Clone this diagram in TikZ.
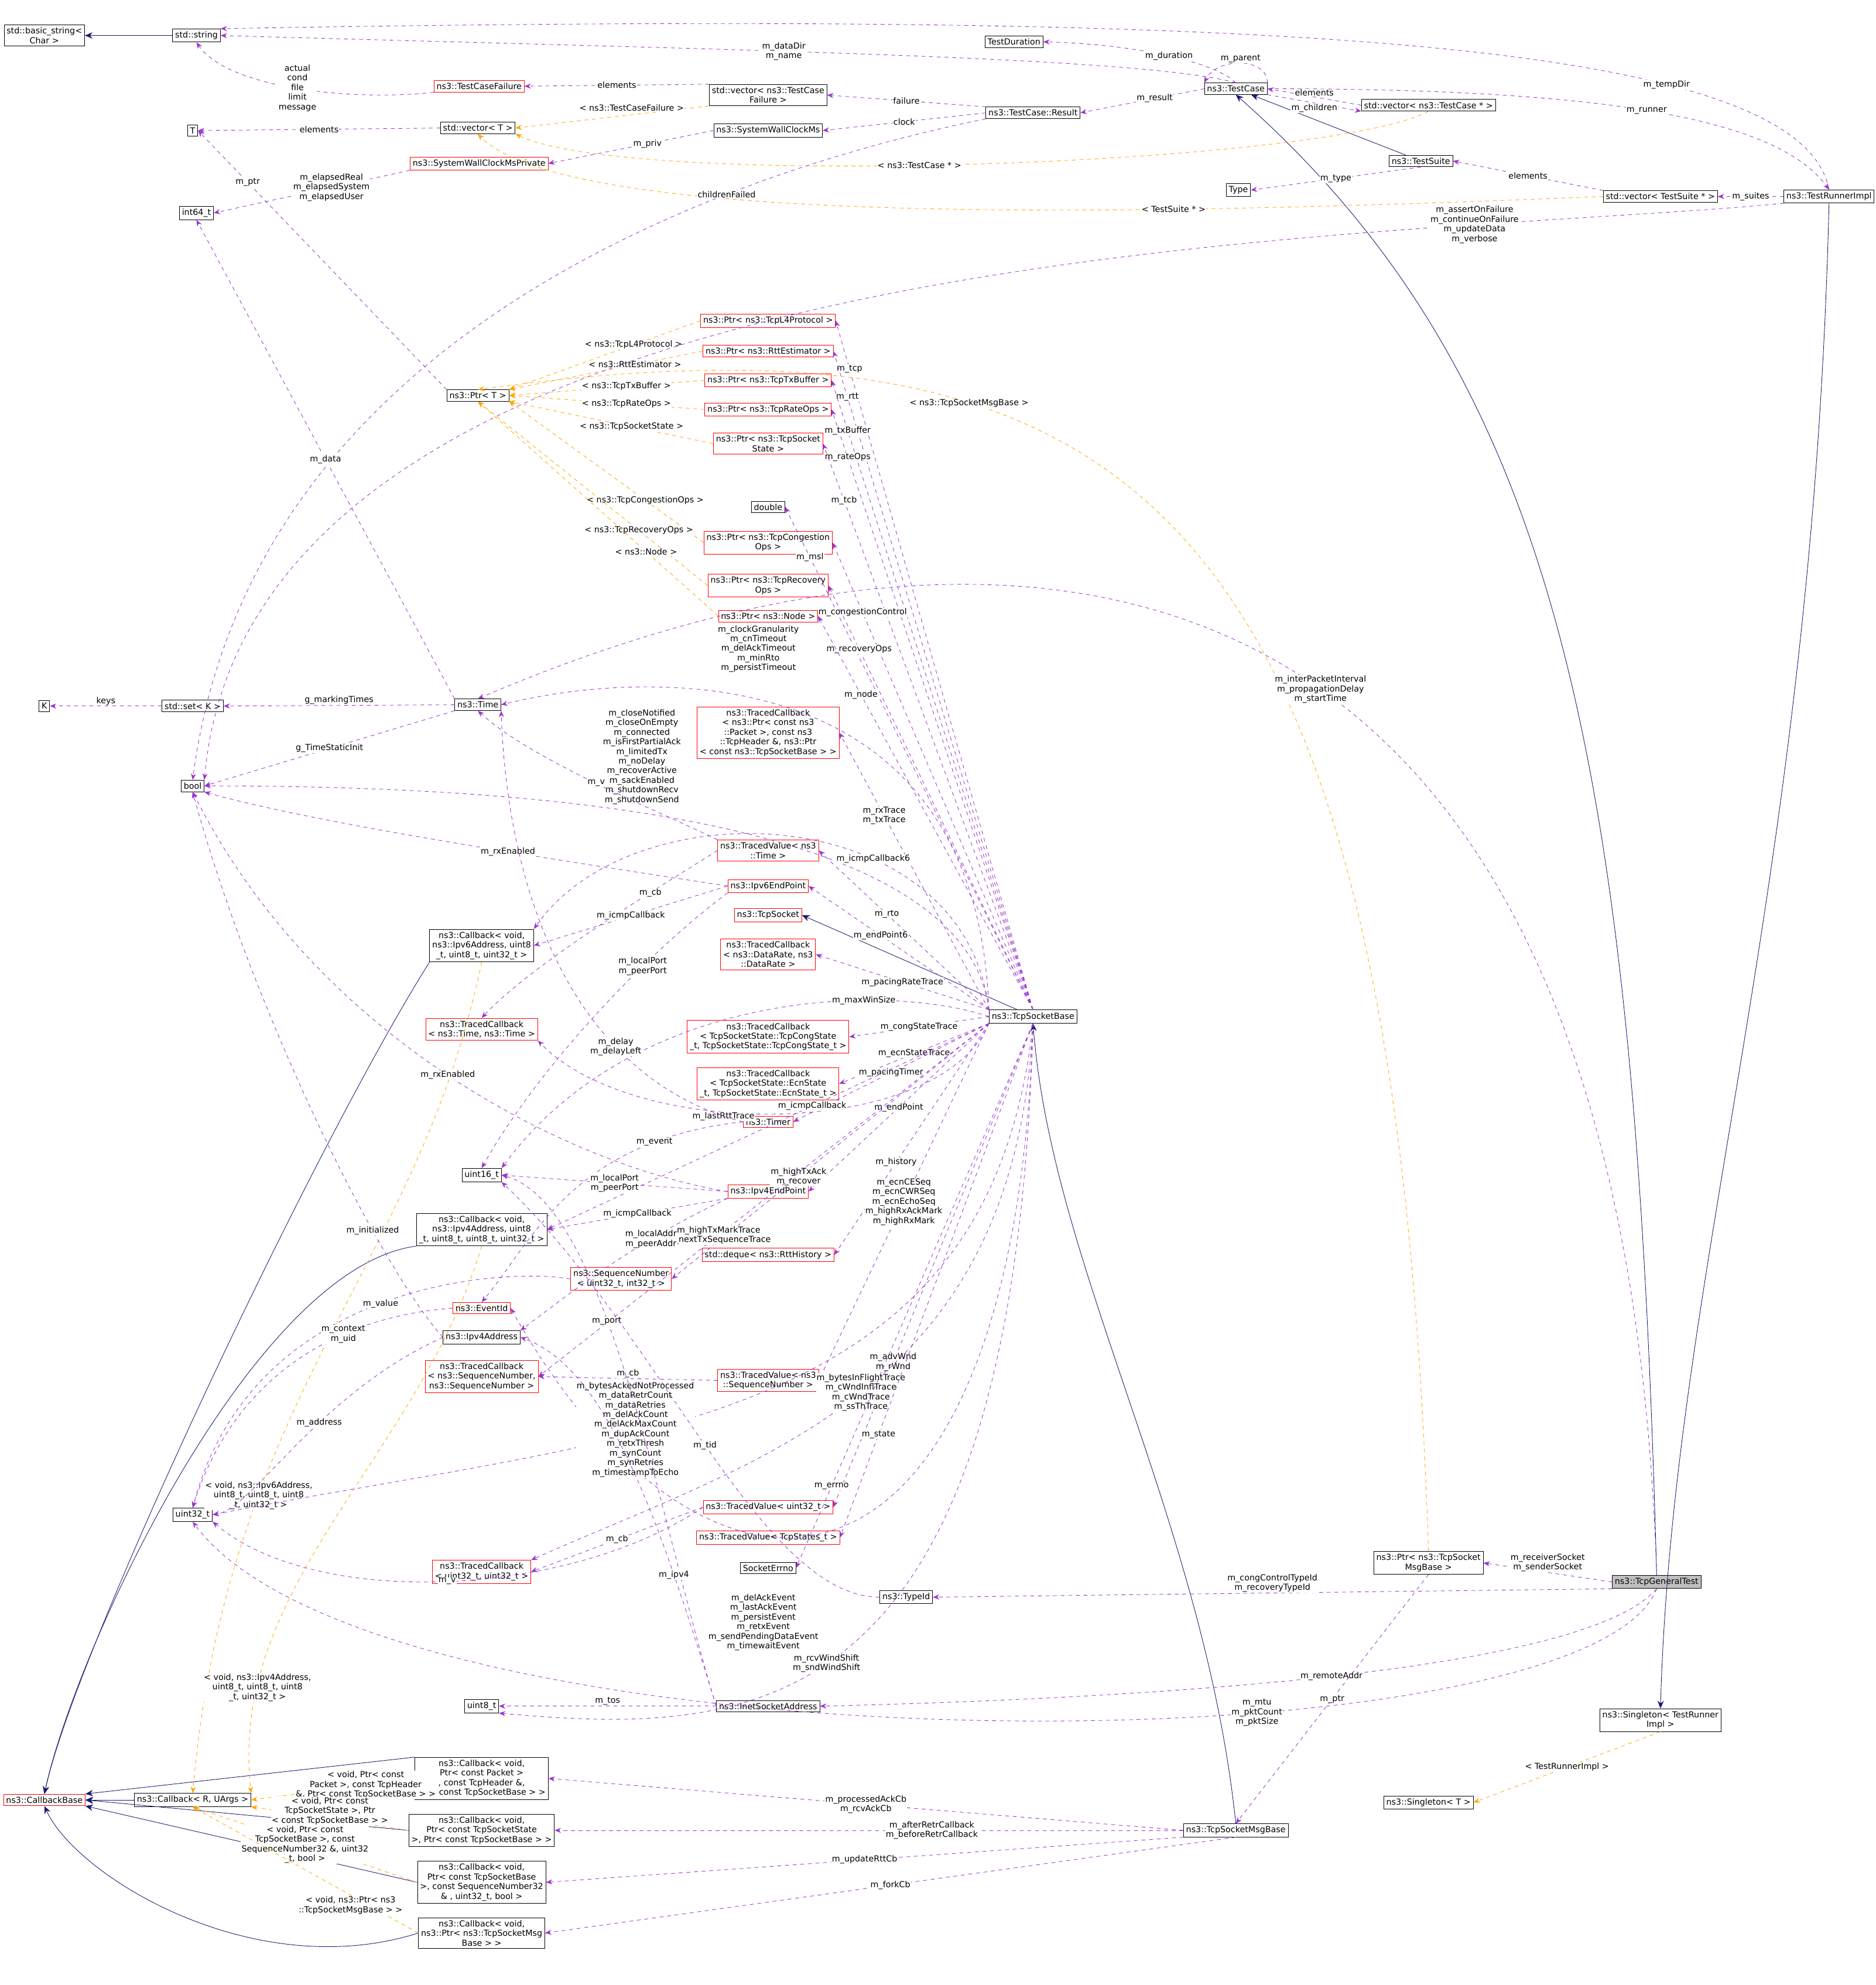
\documentclass[tikz,border=0pt]{standalone}
\usepackage{fontspec}
\setmainfont{DejaVu Sans}
\usetikzlibrary{arrows.meta}
\definecolor{usecol}{HTML}{9A32CD}
\definecolor{inhcol}{HTML}{191970}
\definecolor{tplcol}{HTML}{FFA500}
\begin{document}
\begin{tikzpicture}[x=1pt, y=-1pt,
  every node/.style={font=\fontsize{6.6}{7.6}\selectfont, align=center},
  cls/.style={draw=black, fill=white, inner sep=2pt},
  rcls/.style={draw=red, fill=white, inner sep=2pt},
  cur/.style={draw=black, fill=black!25, inner sep=2pt},
  use/.style={draw=usecol, dashed, -{Stealth[length=5pt,width=4pt]}},
  inh/.style={draw=inhcol, -{Stealth[length=6pt,width=5pt]}},
  tpl/.style={draw=tplcol, dashed, -{Stealth[length=5pt,width=4pt]}},
  lbl/.style={fill=white, inner sep=0.5pt}]

\useasboundingbox (0,0) rectangle (1480,1566);

% left column
\node[cls] (bstr) at (35,28) {std::basic\_string\textless\\Char \textgreater};
\node[cls] (str) at (155,28) {std::string};
\node[cls] (T) at (152,103) {T};
\node[cls] (i64) at (155,168) {int64\_t};
\node[cls] (K) at (35,557) {K};
\node[cls] (setK) at (152,557) {std::set\textless{} K \textgreater};
\node[cls] (bool) at (152,620) {bool};
\node[cls] (u32) at (152,1195) {uint32\_t};
\node[rcls] (cbb) at (35,1420) {ns3::CallbackBase};
\node[cls] (cbR) at (152,1420) {ns3::Callback\textless{} R, UArgs \textgreater};

% test framework
\node[cls] (tdur) at (800,33) {TestDuration};
\node[cls] (tcase) at (975,70) {ns3::TestCase};
\node[cls] (vtc) at (1127,83) {std::vector\textless{} ns3::TestCase * \textgreater};
\node[rcls] (tcf) at (378,68) {ns3::TestCaseFailure};
\node[cls] (vtcf) at (606,75) {std::vector\textless{} ns3::TestCase\\Failure \textgreater};
\node[cls] (vT) at (377,101) {std::vector\textless{} T \textgreater};
\node[cls] (swc) at (606,103) {ns3::SystemWallClockMs};
\node[rcls] (swcp) at (378,129) {ns3::SystemWallClockMsPrivate};
\node[cls] (res) at (815,89) {ns3::TestCase::Result};
\node[cls] (tsuite) at (1121,127) {ns3::TestSuite};
\node[cls] (type) at (977,150) {Type};
\node[cls] (vts) at (1310,155) {std::vector\textless{} TestSuite * \textgreater};
\node[cls] (trun) at (1443,155) {ns3::TestRunnerImpl};

% pointers
\node[cls] (ptrT) at (377,312) {ns3::Ptr\textless{} T \textgreater};
\node[rcls] (pl4) at (606,253) {ns3::Ptr\textless{} ns3::TcpL4Protocol \textgreater};
\node[rcls] (prtt) at (606,277) {ns3::Ptr\textless{} ns3::RttEstimator \textgreater};
\node[rcls] (ptx) at (606,300) {ns3::Ptr\textless{} ns3::TcpTxBuffer \textgreater};
\node[rcls] (prate) at (606,323) {ns3::Ptr\textless{} ns3::TcpRateOps \textgreater};
\node[rcls] (ptcb) at (606,350) {ns3::Ptr\textless{} ns3::TcpSocket\\State \textgreater};
\node[cls] (dbl) at (606,400) {double};
\node[rcls] (pcc) at (606,428) {ns3::Ptr\textless{} ns3::TcpCongestion\\Ops \textgreater};
\node[rcls] (prec) at (606,462) {ns3::Ptr\textless{} ns3::TcpRecovery\\Ops \textgreater};
\node[rcls] (pnode) at (606,486) {ns3::Ptr\textless{} ns3::Node \textgreater};

% socket members
\node[cls] (time) at (377,556) {ns3::Time};
\node[rcls] (tcpkt) at (606,578) {ns3::TracedCallback\\\textless{} ns3::Ptr\textless{} const ns3\\::Packet \textgreater, const ns3\\::TcpHeader \&, ns3::Ptr\\\textless{} const ns3::TcpSocketBase \textgreater{} \textgreater};
\node[rcls] (tvtime) at (606,671) {ns3::TracedValue\textless{} ns3\\::Time \textgreater};
\node[rcls] (ip6ep) at (606,699) {ns3::Ipv6EndPoint};
\node[rcls] (tsock) at (606,722) {ns3::TcpSocket};
\node[rcls] (tcrate) at (606,753) {ns3::TracedCallback\\\textless{} ns3::DataRate, ns3\\::DataRate \textgreater};
\node[cls] (cb6) at (380,746) {ns3::Callback\textless{} void,\\ns3::Ipv6Address, uint8\\\_t, uint8\_t, uint32\_t \textgreater};
\node[rcls] (tctime) at (380,812) {ns3::TracedCallback\\\textless{} ns3::Time, ns3::Time \textgreater};
\node[cls] (tsb) at (815,802) {ns3::TcpSocketBase};
\node[rcls] (tccong) at (606,818) {ns3::TracedCallback\\\textless{} TcpSocketState::TcpCongState\\\_t, TcpSocketState::TcpCongState\_t \textgreater};
\node[rcls] (tcecn) at (606,855) {ns3::TracedCallback\\\textless{} TcpSocketState::EcnState\\\_t, TcpSocketState::EcnState\_t \textgreater};
\node[rcls] (timer) at (606,885) {ns3::Timer};
\node[cls] (u16) at (380,927) {uint16\_t};
\node[rcls] (ip4ep) at (606,940) {ns3::Ipv4EndPoint};
\node[cls] (cb4) at (380,970) {ns3::Callback\textless{} void,\\ns3::Ipv4Address, uint8\\\_t, uint8\_t, uint8\_t, uint32\_t \textgreater};
\node[rcls] (deq) at (606,990) {std::deque\textless{} ns3::RttHistory \textgreater};
\node[rcls] (seqn) at (490,1009) {ns3::SequenceNumber\\\textless{} uint32\_t, int32\_t \textgreater};
\node[rcls] (evid) at (380,1032) {ns3::EventId};
\node[cls] (ip4a) at (380,1055) {ns3::Ipv4Address};
\node[rcls] (tcseq) at (380,1086) {ns3::TracedCallback\\\textless{} ns3::SequenceNumber,\\ns3::SequenceNumber \textgreater};
\node[rcls] (tvseq) at (606,1089) {ns3::TracedValue\textless{} ns3\\::SequenceNumber \textgreater};
\node[rcls] (tvu32) at (606,1189) {ns3::TracedValue\textless{} uint32\_t \textgreater};
\node[rcls] (tcu32) at (380,1240) {ns3::TracedCallback\\\textless{} uint32\_t, uint32\_t \textgreater};
\node[rcls] (tvst) at (606,1213) {ns3::TracedValue\textless{} TcpStates\_t \textgreater};
\node[cls] (errno) at (606,1237) {SocketErrno};
\node[cls] (tid) at (715,1260) {ns3::TypeId};
\node[cls] (u8) at (380,1346) {uint8\_t};
\node[cls] (inet) at (606,1346) {ns3::InetSocketAddress};

% test classes
\node[cls] (pmsg) at (1127,1233) {ns3::Ptr\textless{} ns3::TcpSocket\\MsgBase \textgreater};
\node[cur] (gen) at (1307,1248) {ns3::TcpGeneralTest};
\node[cls] (sgtr) at (1310,1357) {ns3::Singleton\textless{} TestRunner\\Impl \textgreater};
\node[cls] (sgT) at (1127,1422) {ns3::Singleton\textless{} T \textgreater};
\node[cls] (msg) at (975,1444) {ns3::TcpSocketMsgBase};
\node[cls] (cbpkt) at (380,1403) {ns3::Callback\textless{} void,\\Ptr\textless{} const Packet \textgreater\\, const TcpHeader \&,\\Ptr\textless{} const TcpSocketBase \textgreater{} \textgreater};
\node[cls] (cbst) at (380,1444) {ns3::Callback\textless{} void,\\Ptr\textless{} const TcpSocketState\\\textgreater, Ptr\textless{} const TcpSocketBase \textgreater{} \textgreater};
\node[cls] (cbsq) at (380,1485) {ns3::Callback\textless{} void,\\Ptr\textless{} const TcpSocketBase\\\textgreater, const SequenceNumber32\\\& , uint32\_t, bool \textgreater};
\node[cls] (cbmsg) at (380,1525) {ns3::Callback\textless{} void,\\ns3::Ptr\textless{} ns3::TcpSocketMsg\\Base \textgreater{} \textgreater};

% Inheritance
\draw[inh] (str) -- (bstr);
\draw[inh] (tsuite) -- (tcase);
\draw[inh] (gen.north) .. controls (1290,600) and (1230,300) .. (tcase.south);
\draw[inh] (trun.south) .. controls (1430,700) and (1320,1000) .. (sgtr.north);
\draw[inh] (tsb) -- (tsock.east);
\draw[inh] (msg.north) .. controls (950,1200) and (830,1000) .. (tsb.south);
\draw[inh] (cbR) -- (cbb);
\draw[inh] (cb6.south west) .. controls (250,900) and (60,1300) .. (cbb.north);
\draw[inh] (cb4.south west) .. controls (200,1000) and (60,1300) .. (cbb.north);
\draw[inh] (cbpkt.north west) -- (cbb.north east);
\draw[inh] (cbst.west) -- (cbb.east);
\draw[inh] (cbsq.west) -- (cbb.south east);
\draw[inh] (cbmsg.west) .. controls (200,1566) and (60,1480) .. (cbb.south);

% Template instances
\draw[tpl] (vtcf.south west) -- node[lbl, above=2pt, pos=0.4] {\textless{} ns3::TestCaseFailure \textgreater} (vT.east);
\draw[tpl] (vtc.south) .. controls (1050,130) and (500,150) .. node[lbl, pos=0.55] {\textless{} ns3::TestCase * \textgreater} (vT.south east);
\draw[tpl] (vts.west) .. controls (900,170) and (450,180) .. node[lbl, pos=0.3] {\textless{} TestSuite * \textgreater} (vT.south);
\draw[tpl] (pl4.west) -- node[lbl, pos=0.35] {\textless{} ns3::TcpL4Protocol \textgreater} (ptrT.north east);
\draw[tpl] (prtt.west) -- node[lbl, pos=0.35] {\textless{} ns3::RttEstimator \textgreater} (ptrT.north east);
\draw[tpl] (ptx.west) -- node[lbl, pos=0.4] {\textless{} ns3::TcpTxBuffer \textgreater} (ptrT.east);
\draw[tpl] (prate.west) -- node[lbl, pos=0.4] {\textless{} ns3::TcpRateOps \textgreater} (ptrT.east);
\draw[tpl] (ptcb.west) -- node[lbl, pos=0.4] {\textless{} ns3::TcpSocketState \textgreater} (ptrT.south east);
\draw[tpl] (pcc.west) -- node[lbl, pos=0.3] {\textless{} ns3::TcpCongestionOps \textgreater} (ptrT.south east);
\draw[tpl] (prec.west) -- node[lbl, pos=0.3] {\textless{} ns3::TcpRecoveryOps \textgreater} (ptrT.south);
\draw[tpl] (pnode.west) -- node[lbl, pos=0.3] {\textless{} ns3::Node \textgreater} (ptrT.south);
\draw[tpl] (pmsg.north) .. controls (1100,400) and (900,236) .. node[lbl, pos=0.7] {\textless{} ns3::TcpSocketMsgBase \textgreater} (ptrT.north);
\draw[tpl] (sgtr.south) -- node[lbl, pos=0.5] {\textless{} TestRunnerImpl \textgreater} (sgT.east);
\draw[tpl] (cb6.south) .. controls (330,1000) and (180,1100) .. node[lbl, pos=0.7] {\textless{} void, ns3::Ipv6Address,\\uint8\_t, uint8\_t, uint8\\\_t, uint32\_t \textgreater} (cbR.north);
\draw[tpl] (cb4.south) .. controls (330,1150) and (180,1250) .. node[lbl, pos=0.82] {\textless{} void, ns3::Ipv4Address,\\uint8\_t, uint8\_t, uint8\\\_t, uint32\_t \textgreater} (cbR.north east);
\draw[tpl] (cbpkt.west) -- node[lbl, pos=0.3] {\textless{} void, Ptr\textless{} const\\Packet \textgreater, const TcpHeader\\\&, Ptr\textless{} const TcpSocketBase \textgreater{} \textgreater} (cbR.east);
\draw[tpl] (cbst.west) -- node[lbl, pos=0.5, yshift=6pt] {\textless{} void, Ptr\textless{} const\\TcpSocketState \textgreater, Ptr\\\textless{} const TcpSocketBase \textgreater{} \textgreater} (cbR.south east);
\draw[tpl] (cbsq.west) -- node[lbl, pos=0.5, yshift=0pt] {\textless{} void, Ptr\textless{} const\\TcpSocketBase \textgreater, const\\SequenceNumber32 \&, uint32\\\_t, bool \textgreater} (cbR.south);
\draw[tpl] (cbmsg.west) -- node[lbl, pos=0.3, yshift=-8pt] {\textless{} void, ns3::Ptr\textless{} ns3\\::TcpSocketMsgBase \textgreater{} \textgreater} (cbR.south);

% Usage: test framework
\draw[use] (tcase.north) .. controls (900,45) and (600,40) .. node[lbl, pos=0.6] {m\_dataDir\\m\_name} (str.east);
\draw[use] (trun.north) .. controls (1420,30) and (1000,8) .. node[lbl, pos=0.3] {m\_tempDir} (str.north east);
\draw[use] (tcf.south west) .. controls (280,80) and (180,70) .. node[lbl, pos=0.5] {actual\\cond\\file\\limit\\message} (str.south);
\draw[use] (vtcf.north west) -- node[lbl, pos=0.5] {elements} (tcf.east);
\draw[use] (vT.west) -- node[lbl, pos=0.5] {elements} (T.east);
\draw[use] (swc.west) -- node[lbl, pos=0.4] {m\_priv} (swcp.east);
\draw[use] (swcp.south west) -- node[lbl, pos=0.4] {m\_elapsedReal\\m\_elapsedSystem\\m\_elapsedUser} (i64.east);
\draw[use] (res.north west) -- node[lbl, pos=0.5] {failure} (vtcf.east);
\draw[use] (res.west) -- node[lbl, pos=0.5] {clock} (swc.east);
\draw[use] (res.south west) .. controls (600,130) and (200,250) .. node[lbl, pos=0.3] {childrenFailed} (bool.north);
\draw[use] (tcase.west) -- node[lbl, pos=0.4] {m\_result} (res.east);
\draw[use] (tcase.north) .. controls (960,50) and (900,35) .. node[lbl, pos=0.5] {m\_duration} (tdur.east);
\draw[use] (tcase.north east) .. controls (1000,45) and (960,45) .. node[lbl, above, pos=0.5] {m\_parent} (tcase.north west);
\draw[use] (vtc.west) -- node[lbl, above, pos=0.5] {elements} (tcase.east);
\draw[use] (tcase.south east) -- node[lbl, below, pos=0.5] {m\_children} (vtc.south west);
\draw[use] (tsuite.south) -- node[lbl, pos=0.5] {m\_type} (type.east);
\draw[use] (vts.north west) -- node[lbl, pos=0.5] {elements} (tsuite.east);
\draw[use] (trun.west) -- node[lbl, pos=0.5] {m\_suites} (vts.east);
\draw[use] (tcase.east) .. controls (1250,70) and (1400,90) .. node[lbl, pos=0.5] {m\_runner} (trun.north);
\draw[use] (trun.south west) .. controls (1100,190) and (200,180) .. node[lbl, pos=0.2] {m\_assertOnFailure\\m\_continueOnFailure\\m\_updateData\\m\_verbose} (bool.north east);

% Usage: basic types
\draw[use] (ptrT.north west) -- node[lbl, pos=0.8] {m\_ptr} (T.east);
\draw[use] (time.north west) -- node[lbl, pos=0.5] {m\_data} (i64.south);
\draw[use] (time.west) -- node[lbl, above, pos=0.5] {g\_markingTimes} (setK.east);
\draw[use] (setK.west) -- node[lbl, above, pos=0.5] {keys} (K.east);
\draw[use] (time.south west) -- node[lbl, pos=0.5] {g\_TimeStaticInit} (bool.east);

% Usage: TcpSocketBase members
\draw[use] (tsb.north) -- node[lbl, pos=0.93] {m\_tcp} (pl4.east);
\draw[use] (tsb.north) -- node[lbl, pos=0.93] {m\_rtt} (prtt.east);
\draw[use] (tsb.north) -- node[lbl, pos=0.92] {m\_txBuffer} (ptx.east);
\draw[use] (tsb.north) -- node[lbl, pos=0.92] {m\_rateOps} (prate.east);
\draw[use] (tsb.north) -- node[lbl, pos=0.9] {m\_tcb} (ptcb.east);
\draw[use] (tsb.north) -- node[lbl, pos=0.9] {m\_msl} (dbl.east);
\draw[use] (tsb.north) -- node[lbl, pos=0.85] {m\_congestionControl} (pcc.east);
\draw[use] (tsb.north) -- node[lbl, pos=0.85] {m\_recoveryOps} (prec.east);
\draw[use] (tsb.north) -- node[lbl, pos=0.8] {m\_node} (pnode.east);
\draw[use] (tsb.north west) .. controls (770,510) and (500,530) .. node[lbl, pos=0.55, yshift=40pt] {m\_clockGranularity\\m\_cnTimeout\\m\_delAckTimeout\\m\_minRto\\m\_persistTimeout} (time.east);
\draw[use] (tsb.north west) -- node[lbl, pos=0.7] {m\_rxTrace\\m\_txTrace} (tcpkt.east);
\draw[use] (tsb.north west) .. controls (760,640) and (400,620) .. node[lbl, pos=0.6, yshift=40pt, xshift=30pt] {m\_closeNotified\\m\_closeOnEmpty\\m\_connected\\m\_isFirstPartialAck\\m\_limitedTx\\m\_noDelay\\m\_recoverActive\\m\_sackEnabled\\m\_shutdownRecv\\m\_shutdownSend} (bool.east);
\draw[use] (tsb.north west) .. controls (760,630) and (500,620) .. node[lbl, pos=0.35] {m\_icmpCallback6} (cb6.north east);
\draw[use] (tsb.north west) -- node[lbl, pos=0.6] {m\_rto} (tvtime.east);
\draw[use] (tsb.north west) -- node[lbl, pos=0.6] {m\_endPoint6} (ip6ep.east);
\draw[use] (tsb.north west) -- node[lbl, pos=0.5] {m\_pacingRateTrace} (tcrate.east);
\draw[use] (tsb.west) .. controls (700,775) and (500,780) .. node[lbl, pos=0.3] {m\_maxWinSize} (u16.north east);
\draw[use] (tsb.west) -- node[lbl, pos=0.5] {m\_congStateTrace} (tccong.east);
\draw[use] (tsb.south west) -- node[lbl, pos=0.5] {m\_ecnStateTrace} (tcecn.east);
\draw[use] (tsb.south west) -- node[lbl, pos=0.5] {m\_pacingTimer} (timer.east);
\draw[use] (tsb.south west) .. controls (740,900) and (500,900) .. node[lbl, pos=0.6, yshift=-4pt] {m\_lastRttTrace} (tctime.south east);
\draw[use] (tsb.south west) -- node[lbl, pos=0.5] {m\_endPoint} (ip4ep.east);
\draw[use] (tsb.south west) -- node[lbl, pos=0.4] {m\_icmpCallback} (cb4.east);
\draw[use] (tsb.south west) -- node[lbl, pos=0.6] {m\_history} (deq.east);
\draw[use] (tsb.south west) -- node[lbl, pos=0.6] {m\_highTxAck\\m\_recover} (seqn.east);
\draw[use] (tsb.south west) -- node[lbl, pos=0.6] {m\_highTxMarkTrace\\m\_nextTxSequenceTrace} (tcseq.east);
\draw[use] (tsb.south west) -- node[lbl, pos=0.5] {m\_ecnCESeq\\m\_ecnCWRSeq\\m\_ecnEchoSeq\\m\_highRxAckMark\\m\_highRxMark} (tvseq.east);
\draw[use] (tsb.south) -- node[lbl, pos=0.7] {m\_advWnd\\m\_rWnd} (tvu32.east);
\draw[use] (tsb.south) .. controls (800,1100) and (600,1150) .. node[lbl, pos=0.5] {m\_bytesInFlightTrace\\m\_cWndInflTrace\\m\_cWndTrace\\m\_ssThTrace} (tcu32.north east);
\draw[use] (tsb.south) -- node[lbl, pos=0.8] {m\_state} (tvst.east);
\draw[use] (tsb.south) -- node[lbl, pos=0.85] {m\_errno} (errno.east);
\draw[use] (tsb.south) .. controls (800,1290) and (560,1310) .. node[lbl, pos=0.5, yshift=-75pt, xshift=-60pt] {m\_delAckEvent\\m\_lastAckEvent\\m\_persistEvent\\m\_retxEvent\\m\_sendPendingDataEvent\\m\_timewaitEvent} (evid.east);
\draw[use] (tsb.south) .. controls (780,1130) and (500,1130) .. node[lbl, pos=0.62, xshift=-12pt] {m\_bytesAckedNotProcessed\\m\_dataRetrCount\\m\_dataRetries\\m\_delAckCount\\m\_delAckMaxCount\\m\_dupAckCount\\m\_retxThresh\\m\_synCount\\m\_synRetries\\m\_timestampToEcho} (u32.east);
\draw[use] (tsb.south) .. controls (800,1360) and (600,1370) .. node[lbl, pos=0.55] {m\_rcvWindShift\\m\_sndWindShift} (u8.south east);

% Usage: member classes
\draw[use] (tvtime.north west) .. controls (520,640) and (420,600) .. node[lbl, pos=0.5] {m\_v} (time.south);
\draw[use] (tvtime.west) .. controls (520,700) and (420,760) .. node[lbl, pos=0.3] {m\_cb} (tctime.north);
\draw[use] (ip6ep.west) .. controls (450,680) and (250,650) .. node[lbl, pos=0.4] {m\_rxEnabled} (bool.south east);
\draw[use] (ip6ep.west) -- node[lbl, pos=0.5] {m\_icmpCallback} (cb6.east);
\draw[use] (ip6ep.south west) .. controls (500,760) and (420,850) .. node[lbl, pos=0.3] {m\_localPort\\m\_peerPort} (u16.north);
\draw[use] (timer.west) .. controls (450,850) and (400,700) .. node[lbl, pos=0.3] {m\_delay\\m\_delayLeft} (time.south east);
\draw[use] (timer.west) .. controls (450,900) and (420,980) .. node[lbl, pos=0.2] {m\_event} (evid.north);
\draw[use] (ip4ep.west) .. controls (450,920) and (250,820) .. node[lbl, pos=0.5] {m\_rxEnabled} (bool.south);
\draw[use] (ip4ep.west) -- node[lbl, pos=0.5] {m\_localPort\\m\_peerPort} (u16.east);
\draw[use] (ip4ep.south west) -- node[lbl, pos=0.5] {m\_icmpCallback} (cb4.east);
\draw[use] (ip4ep.south west) .. controls (500,980) and (450,1020) .. node[lbl, pos=0.3] {m\_localAddr\\m\_peerAddr} (ip4a.north east);
\draw[use] (seqn.west) .. controls (400,1000) and (200,1010) .. node[lbl, pos=0.5] {m\_value} (u32.north);
\draw[use] (evid.west) .. controls (250,1040) and (180,1100) .. node[lbl, pos=0.3] {m\_context\\m\_uid} (u32.north);
\draw[use] (ip4a.west) .. controls (250,1100) and (200,1190) .. node[lbl, pos=0.4] {m\_address} (u32.east);
\draw[use] (ip4a.west) .. controls (300,1000) and (200,800) .. node[lbl, pos=0.3] {m\_initialized} (bool.south);
\draw[use] (tvseq.west) -- node[lbl, above, pos=0.5] {m\_cb} (tcseq.east);
\draw[use] (tvu32.west) -- node[lbl, pos=0.5] {m\_cb} (tcu32.east);
\draw[use] (tvu32.west) .. controls (450,1260) and (250,1270) .. node[lbl, pos=0.5] {m\_v} (u32.south east);
\draw[use] (inet.west) .. controls (520,1200) and (480,950) .. node[lbl, pos=0.6] {m\_port} (u16.east);
\draw[use] (inet.west) .. controls (520,1200) and (480,1080) .. node[lbl, pos=0.25] {m\_ipv4} (ip4a.east);
\draw[use] (inet.west) -- node[lbl, above, pos=0.5] {m\_tos} (u8.east);
\draw[use] (tid.west) .. controls (600,1260) and (520,1050) .. node[lbl, pos=0.5] {m\_tid} (u16.south east);

% Usage: test classes
\draw[use] (gen.west) -- node[lbl, above, pos=0.5] {m\_receiverSocket\\m\_senderSocket} (pmsg.east);
\draw[use] (gen.south west) -- node[lbl, above, pos=0.5] {m\_congControlTypeId\\m\_recoveryTypeId} (tid.east);
\draw[use] (gen.south) .. controls (1250,1320) and (900,1340) .. node[lbl, pos=0.5] {m\_remoteAddr} (inet.east);
\draw[use] (gen.south) .. controls (1250,1400) and (300,1400) .. node[lbl, pos=0.35] {m\_mtu\\m\_pktCount\\m\_pktSize} (u32.south);
\draw[use] (gen.north) .. controls (1280,400) and (800,370) .. node[lbl, pos=0.45] {m\_interPacketInterval\\m\_propagationDelay\\m\_startTime} (time.north);
\draw[use] (pmsg.south) -- node[lbl, pos=0.5] {m\_ptr} (msg.north);
\draw[use] (msg.west) -- node[lbl, pos=0.5] {m\_processedAckCb\\m\_rcvAckCb} (cbpkt.east);
\draw[use] (msg.west) -- node[lbl, pos=0.4] {m\_afterRetrCallback\\m\_beforeRetrCallback} (cbst.east);
\draw[use] (msg.south west) -- node[lbl, pos=0.5] {m\_updateRttCb} (cbsq.east);
\draw[use] (msg.south) -- node[lbl, pos=0.5] {m\_forkCb} (cbmsg.east);

\end{tikzpicture}
\end{document}
